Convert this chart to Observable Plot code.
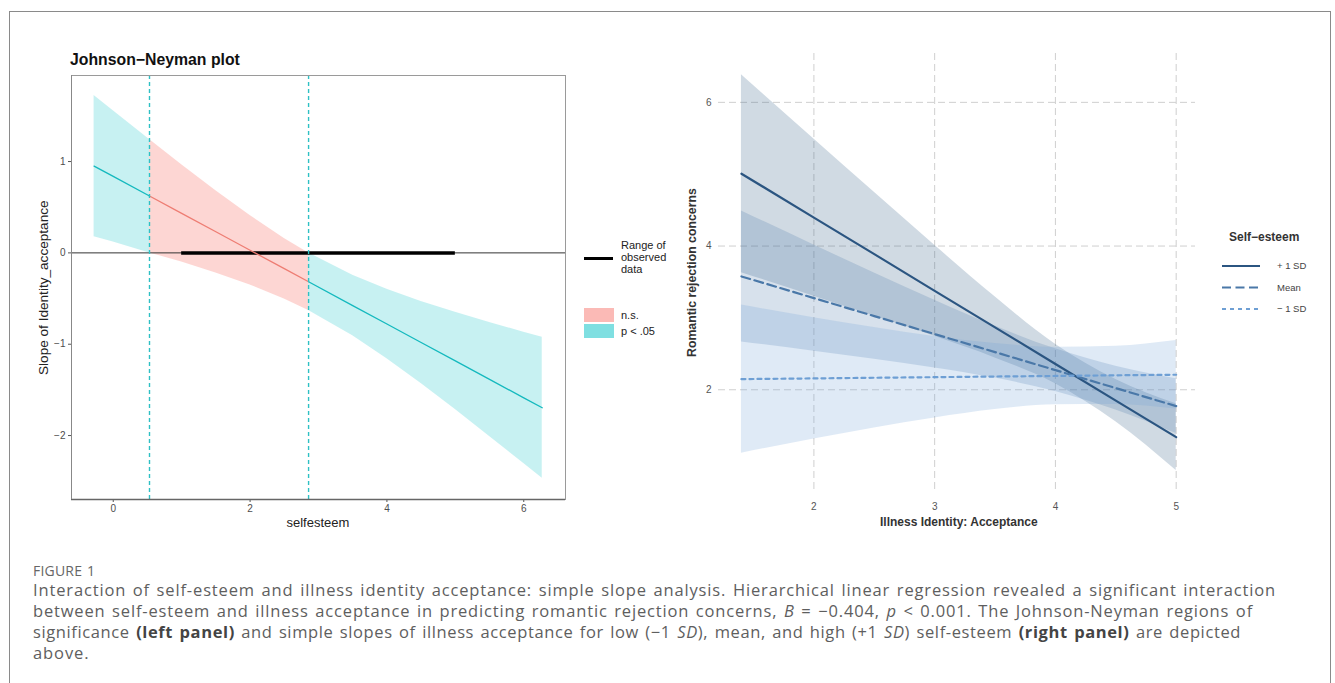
<!DOCTYPE html>
<html><head><meta charset="utf-8">
<script src="https://cdn.jsdelivr.net/npm/d3@7"></script>
<script src="https://cdn.jsdelivr.net/npm/@observablehq/plot@0.6"></script>
<style>
body{margin:0;background:#fff;width:1335px;height:683px;overflow:hidden;position:relative;font-family:"Liberation Sans",Arial,sans-serif;}
.abs{position:absolute;white-space:nowrap;}
#box{position:absolute;left:9px;top:11px;width:1322px;height:740px;border:1.5px solid #8a8a8a;box-sizing:border-box;}
.cap{position:absolute;left:33px;font-family:"Open Sans",Lato,sans-serif;font-weight:400;color:#5e5e5e;white-space:nowrap;font-size:16.5px;line-height:21px;word-spacing:1.5px;}
.cap b{font-weight:700;color:#444;}
.vlab{transform-origin:0 0;transform:rotate(-90deg);}
</style></head><body>
<div id="box"></div>
<div id="left" class="abs" style="left:0;top:0"></div>
<div id="right" class="abs" style="left:660px;top:30px"></div>

<!-- left panel texts -->
<div class="abs" style="left:70px;top:51px;font-size:15.8px;font-weight:bold;color:#111">Johnson−Neyman plot</div>
<div class="abs vlab" id="ylabL" style="font-size:13.6px;color:#222">Slope of Identity_acceptance</div>
<div class="abs" id="xlabL" style="font-size:13px;color:#222">selfesteem</div>
<!-- left legend -->
<div class="abs" style="left:584px;top:257px;width:29px;height:3px;background:#000"></div>
<div class="abs" style="left:621px;top:240px;font-size:11px;line-height:11.8px;color:#222">Range of<br>observed<br>data</div>
<div class="abs" style="left:584px;top:308px;width:30px;height:14px;background:rgba(248,118,109,0.5)"></div>
<div class="abs" style="left:584px;top:324px;width:30px;height:14px;background:rgba(0,191,196,0.5)"></div>
<div class="abs" style="left:621px;top:309px;font-size:11px;color:#222">n.s.</div>
<div class="abs" style="left:621px;top:325px;font-size:11px;color:#222">p &lt; .05</div>

<!-- right panel texts -->
<div class="abs vlab" id="ylabR" style="font-size:12.3px;font-weight:bold;color:#333">Romantic rejection concerns</div>
<div class="abs" id="xlabR" style="font-size:12px;font-weight:bold;color:#333">Illness Identity: Acceptance</div>
<div class="abs" style="left:1229px;top:230px;font-size:12px;font-weight:bold;color:#333">Self−esteem</div>
<svg class="abs" style="left:1218px;top:258px" width="50" height="60">
  <line x1="4" x2="42" y1="8" y2="8" stroke="#2B5581" stroke-width="2"/>
  <line x1="4" x2="42" y1="29.5" y2="29.5" stroke="#4A78A8" stroke-width="2" stroke-dasharray="9,4.5"/>
  <line x1="4" x2="42" y1="51" y2="51" stroke="#6E9FD4" stroke-width="2" stroke-dasharray="4,4"/>
</svg>
<div class="abs" style="left:1277px;top:260px;font-size:9.5px;color:#444">+ 1 SD</div>
<div class="abs" style="left:1277px;top:281.5px;font-size:9.5px;color:#444">Mean</div>
<div class="abs" style="left:1277px;top:303px;font-size:9.5px;color:#444">− 1 SD</div>

<!-- caption -->
<div class="cap" style="top:560px;font-size:14px;color:#666;letter-spacing:0.2px;word-spacing:1px">FIGURE 1</div>
<div class="cap ln" data-w="1243" style="top:579px">Interaction of self-esteem and illness identity acceptance: simple slope analysis. Hierarchical linear regression revealed a significant interaction</div>
<div class="cap ln" data-w="1220" style="top:600px">between self-esteem and illness acceptance in predicting romantic rejection concerns, <i>B</i> = −0.404, <i>p</i> &lt; 0.001. The Johnson-Neyman regions of</div>
<div class="cap ln" data-w="1208" style="top:621px">significance <b>(left panel)</b> and simple slopes of illness acceptance for low (−1 <i>SD</i>), mean, and high (+1 <i>SD</i>) self-esteem <b>(right panel)</b> are depicted</div>
<div class="cap" style="top:642px;letter-spacing:0.9px">above.</div>

<script>
// ---------- Left panel: Johnson–Neyman plot ----------
const jnX     = [-0.28, 0, 0.53, 1, 1.5, 2, 2.5, 2.855, 3.5, 4, 4.5, 5, 5.5, 6, 6.27];
const jnSlope = [0.950, 0.837, 0.623, 0.433, 0.231, 0.029, -0.173, -0.316, -0.577, -0.779, -0.981, -1.183, -1.385, -1.587, -1.696];
const jnLow   = [0.176, 0.118, 0.000, -0.100, -0.219, -0.351, -0.504, -0.631, -0.908, -1.159, -1.431, -1.716, -2.009, -2.306, -2.468];
const jnHigh  = [1.724, 1.556, 1.241, 0.966, 0.681, 0.409, 0.158, 0.000, -0.246, -0.399, -0.531, -0.650, -0.761, -0.868, -0.924];
const jnBounds = [0.53, 2.855];
const observedRange = [1, 5];
const jnXTicks = [0, 2, 4, 6];
const jnYTicks = [-2, -1, 0, 1];

// ---------- Right panel: simple slopes ----------
const accX   = [1.4, 2, 2.5, 3, 3.5, 4, 4.5, 5];
const seGroups = ["+ 1 SD", "Mean", "− 1 SD"];
const hiFit  = [5.007, 4.396, 3.887, 3.377, 2.868, 2.359, 1.849, 1.340];
const hiLow  = [3.630, 3.302, 3.026, 2.743, 2.443, 2.085, 1.554, 0.876];
const hiHigh = [6.384, 5.490, 4.748, 4.011, 3.293, 2.633, 2.144, 1.804];
const mnFit  = [3.577, 3.276, 3.025, 2.775, 2.524, 2.273, 2.023, 1.772];
const mnLow  = [2.665, 2.537, 2.425, 2.304, 2.162, 1.977, 1.719, 1.391];
const mnHigh = [4.489, 4.015, 3.625, 3.246, 2.886, 2.569, 2.327, 2.153];
const loFit  = [2.148, 2.158, 2.167, 2.175, 2.184, 2.192, 2.201, 2.209];
const loLow  = [1.118, 1.313, 1.468, 1.608, 1.725, 1.793, 1.795, 1.731];
const loHigh = [3.178, 3.003, 2.866, 2.742, 2.643, 2.591, 2.607, 2.687];
const accXTicks = [2, 3, 4, 5];
const rccYTicks = [2, 4, 6];

// ----- left -----
const jn = jnX.map((x, i) => ({x, est: jnSlope[i], lo: jnLow[i], hi: jnHigh[i]}));
const segA = jn.filter(d => d.x <= jnBounds[0]).map(d => ({...d, seg: "a"}));
const segB = jn.filter(d => d.x >= jnBounds[0] && d.x <= jnBounds[1]);
const segC = jn.filter(d => d.x >= jnBounds[1]).map(d => ({...d, seg: "c"}));
const tealSegs = segA.concat(segC);

const left = Plot.plot({
  width: 660, height: 540,
  marginLeft: 71, marginTop: 75, marginRight: 95, marginBottom: 41,
  x: {domain: [-0.61, 6.61]},
  y: {domain: [-2.70, 1.942]},
  style: {fontFamily: "Liberation Sans, Arial, sans-serif", fontSize: "10px", color: "#4d4d4d", background: "transparent", overflow: "visible"},
  marks: [
    Plot.areaY(segB, {x: "x", y1: "lo", y2: "hi", fill: "#F8766D", fillOpacity: 0.3}),
    Plot.areaY(tealSegs, {x: "x", y1: "lo", y2: "hi", z: "seg", fill: "#00BFC4", fillOpacity: 0.22}),
    Plot.ruleY([0], {stroke: "#333", strokeWidth: 1}),
    Plot.ruleY([0], {x1: observedRange[0], x2: observedRange[1], stroke: "#000", strokeWidth: 3.5}),
    Plot.line(segB, {x: "x", y: "est", stroke: "#EE7D73", strokeWidth: 1.3}),
    Plot.line(tealSegs, {x: "x", y: "est", z: "seg", stroke: "#14B9BE", strokeWidth: 1.3}),
    Plot.ruleX(jnBounds, {stroke: "#2EC0C4", strokeWidth: 1.4, strokeDasharray: "4,3"}),
    Plot.frame({stroke: "#9a9a9a"}),
    Plot.axisX(jnXTicks, {tickSize: 3, tickPadding: 2, stroke: "#555", label: null, fontSize: 10, tickFormat: "d"}),
    Plot.axisY(jnYTicks, {tickSize: 3, tickPadding: 3, stroke: "#555", label: null, fontSize: 10, tickFormat: "d"}),
    Plot.ruleY([-2.70], {stroke: "#666", strokeWidth: 1.4}),
    Plot.ruleX([-0.61], {stroke: "#888", strokeWidth: 1})
  ]
});
document.getElementById("left").appendChild(left);

// ----- right -----
const fits = [hiFit, mnFit, loFit], lows = [hiLow, mnLow, loLow], highs = [hiHigh, mnHigh, loHigh];
const ss = seGroups.flatMap((g, gi) => accX.map((x, i) => ({g, x, fit: fits[gi][i], lo: lows[gi][i], hi: highs[gi][i]})));
const colors = ["#2B5581", "#4A78A8", "#6E9FD4"];
const dashes = [null, "9,4.5", "4,4"];

const right = Plot.plot({
  width: 560, height: 500,
  marginLeft: 58, marginRight: 25, marginTop: 23, marginBottom: 38,
  x: {domain: [1.21, 5.16]},
  y: {domain: [0.57, 6.68]},
  color: {domain: seGroups, range: colors},
  style: {fontFamily: "Liberation Sans, Arial, sans-serif", fontSize: "10px", color: "#555", background: "transparent", overflow: "visible"},
  marks: [
    Plot.gridX(accXTicks, {stroke: "#cfcfcf", strokeOpacity: 1, strokeDasharray: "7,4"}),
    Plot.gridY(rccYTicks, {stroke: "#cfcfcf", strokeOpacity: 1, strokeDasharray: "7,4"}),
    ...seGroups.map((g, gi) => Plot.areaY(ss.filter(d => d.g === g), {x: "x", y1: "lo", y2: "hi", fill: colors[gi], fillOpacity: 0.22, curve: "monotone-x"})),
    ...seGroups.map((g, gi) => Plot.line(ss.filter(d => d.g === g), {x: "x", y: "fit", stroke: colors[gi], strokeWidth: 2.2, strokeDasharray: dashes[gi]})),
    Plot.axisX(accXTicks, {tickSize: 0, tickPadding: 10, label: null, fontSize: 10, tickFormat: "d"}),
    Plot.axisY(rccYTicks, {tickSize: 0, tickPadding: 7, label: null, fontSize: 10, tickFormat: "d"})
  ]
});
document.getElementById("right").appendChild(right);

// axis titles placement
const yl = document.getElementById("ylabL");
yl.style.left = "36px"; yl.style.top = (287 + yl.offsetWidth / 2) + "px";
const xl = document.getElementById("xlabL");
xl.style.left = (318 - xl.offsetWidth / 2) + "px"; xl.style.top = "515px";
const yr = document.getElementById("ylabR");
yr.style.left = "685px"; yr.style.top = (272 + yr.offsetWidth / 2) + "px";
const xr = document.getElementById("xlabR");
xr.style.left = (959 - xr.offsetWidth / 2) + "px"; xr.style.top = "515px";

// caption: fit each line to the width it has in the reference
document.querySelectorAll(".ln").forEach(el => {
  const target = +el.dataset.w;
  const ls = (target - el.getBoundingClientRect().width) / el.textContent.length;
  el.style.letterSpacing = ls + "px";
});
</script>
</body></html>
